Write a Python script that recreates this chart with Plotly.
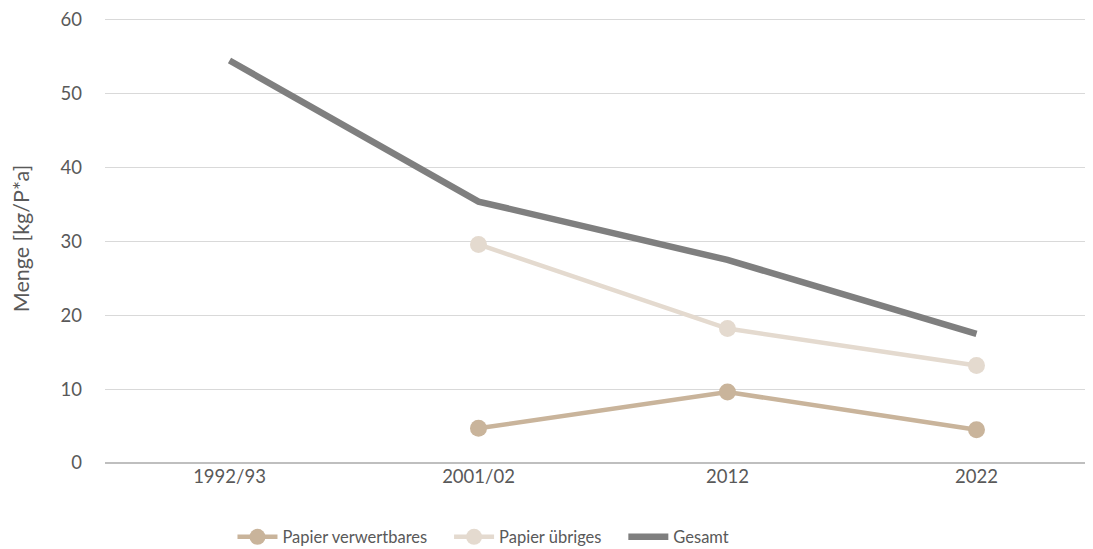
import plotly.graph_objects as go

years = ['1992/93', '2001/02', '2012', '2022']
papier_verwertbar = [None, 4.7, 9.6, 4.5]
papier_uebrig = [None, 29.6, 18.2, 13.2]
gesamt = [54.5, 35.4, 27.5, 17.5]

fig = go.Figure()
fig.add_trace(go.Scatter(x=years, y=papier_verwertbar, name='Papier verwertbares\u00a0\u00a0\u00a0\u00a0',
                         mode='lines+markers',
                         line=dict(color='#c9b49b', width=4.5),
                         marker=dict(size=17, color='#c9b49b')))
fig.add_trace(go.Scatter(x=years, y=papier_uebrig, name='Papier übriges\u00a0\u00a0\u00a0\u00a0',
                         mode='lines+markers',
                         line=dict(color='#e4dacf', width=4.5),
                         marker=dict(size=17, color='#e4dacf')))
fig.add_trace(go.Scatter(x=years, y=gesamt, name='Gesamt',
                         mode='lines',
                         line=dict(color='#7f7f7f', width=6.5)))

fig.update_layout(
    width=1093, height=549,
    margin=dict(l=97, r=0, t=4, b=94),
    paper_bgcolor='white', plot_bgcolor='white',
    font=dict(family='Lato', size=18, color='#595959'),
    showlegend=True,
    legend=dict(orientation='h', x=0.38, xanchor='center', y=-0.165, yanchor='middle',
                font=dict(size=16.5, color='#595959'), itemwidth=40),
    xaxis=dict(type='category', range=[-0.5, 3.5], showgrid=False,
               ticks='', tickfont=dict(size=18.5)),
    yaxis=dict(range=[0, 60.8], dtick=10, showgrid=True, gridcolor='#d9d9d9',
               gridwidth=1.3, zeroline=True, zerolinecolor='#bfbfbf', zerolinewidth=1.5,
               ticks='', ticklabelstandoff=22, tickfont=dict(size=18.5),
               ticklabeloverflow='allow',
               title=dict(text='Menge [kg/P*a]', font=dict(size=21.5), standoff=28)),
)

fig.write_html('out.html')
